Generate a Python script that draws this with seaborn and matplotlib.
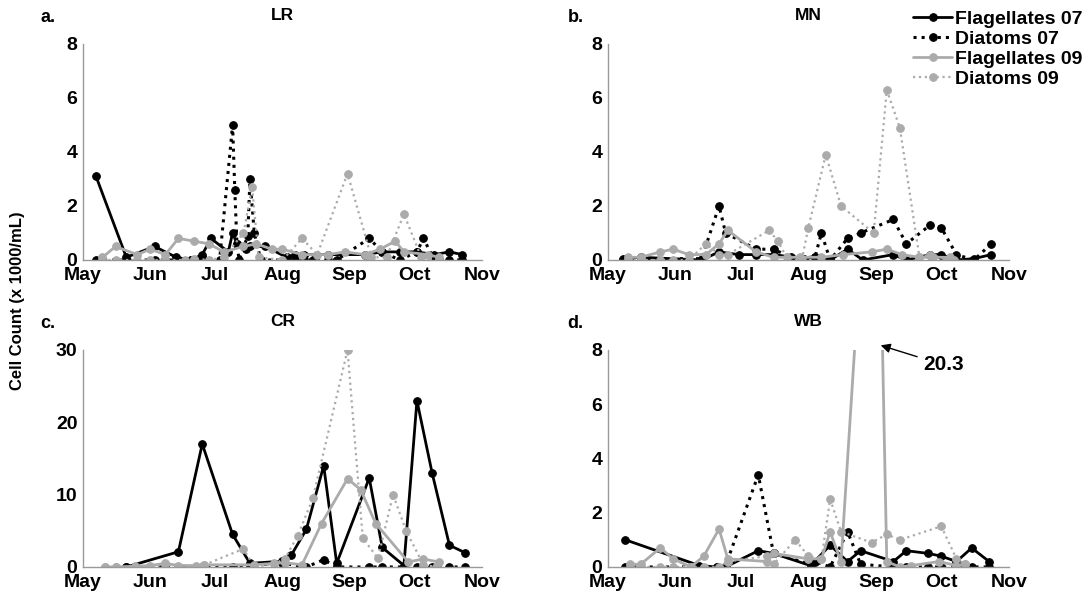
import pandas as pd
import matplotlib.pyplot as plt
import numpy as np
import seaborn as sns

# days counted from May 1; values are cell counts (x 1000/mL)
month_days = [0, 31, 61, 92, 123, 153, 184]
month_labels = ['May', 'Jun', 'Jul', 'Aug', 'Sep', 'Oct', 'Nov']
series_names = ['Flagellates 07', 'Diatoms 07', 'Flagellates 09', 'Diatoms 09']

# LR
lr_f07_day = [6, 20, 33, 43, 50, 55, 59, 67, 69, 71, 75, 77, 84, 94, 98, 102, 113, 130, 138, 146, 154, 162, 169, 175]
lr_f07 = [3.1, 0.1, 0.5, 0.1, 0.0, 0.2, 0.8, 0.3, 1.0, 0.6, 0.4, 0.5, 0.5, 0.1, 0.2, 0.2, 0.2, 0.2, 0.3, 0.3, 0.3, 0.2, 0.3, 0.2]
lr_d07_day = [6, 20, 33, 43, 50, 55, 63, 69, 70, 71, 72, 76, 77, 79, 82, 94, 98, 102, 106, 113, 117, 132, 138, 146, 154, 157, 162, 169, 175]
lr_d07 = [0, 0, 0, 0, 0, 0.1, 0, 5.0, 2.6, 0.6, 0, 0.9, 3.0, 1.0, 0, 0, 0, 0, 0, 0, 0, 0.8, 0.3, 0, 0.3, 0.8, 0, 0, 0]
lr_f09_day = [9, 15, 25, 31, 38, 44, 51, 58, 65, 74, 80, 87, 92, 101, 113, 121, 130, 137, 144, 148, 159, 164]
lr_f09 = [0.1, 0.5, 0.2, 0.4, 0.2, 0.8, 0.7, 0.6, 0.3, 0.5, 0.6, 0.4, 0.4, 0.2, 0.2, 0.3, 0.2, 0.4, 0.7, 0.3, 0.2, 0.1]
lr_d09_day = [9, 15, 25, 31, 38, 47, 51, 58, 65, 74, 78, 81, 92, 101, 108, 122, 133, 140, 148, 156, 164]
lr_d09 = [0, 0, 0, 0, 0, 0, 0.05, 0, 0.1, 1.0, 2.7, 0.1, 0, 0.8, 0.2, 3.2, 0.1, 0.1, 1.7, 0.1, 0]

# MN
mn_f07_day = [7, 15, 43, 51, 60, 68, 76, 90, 95, 102, 110, 117, 131, 137, 148, 153, 160, 168, 176]
mn_f07 = [0.05, 0.1, 0, 0.3, 0.2, 0.2, 0.2, 0.05, 0.1, 0, 0.4, 0, 0.2, 0, 0.2, 0.2, 0, 0.05, 0.2]
mn_d07_day = [7, 15, 43, 51, 54, 68, 76, 84, 95, 98, 102, 110, 116, 131, 137, 148, 153, 160, 168, 176]
mn_d07 = [0, 0.05, 0.05, 2.0, 1.0, 0.4, 0.4, 0.1, 0.1, 1.0, 0, 0.8, 1.0, 1.5, 0.6, 1.3, 1.2, 0.2, 0, 0.6]
mn_f09_day = [9, 15, 24, 30, 37, 45, 51, 55, 68, 76, 88, 98, 108, 121, 128, 135, 143, 149, 157]
mn_f09 = [0.1, 0.1, 0.3, 0.4, 0.2, 0.2, 0.6, 1.1, 0.3, 0.1, 0.1, 0.1, 0.2, 0.3, 0.4, 0.2, 0.1, 0.1, 0.1]
mn_d09_day = [9, 15, 24, 30, 37, 45, 51, 55, 74, 78, 82, 89, 92, 100, 107, 122, 128, 134, 143, 148, 156, 159]
mn_d09 = [0, 0, 0, 0, 0, 0.6, 0.2, 0.2, 1.1, 0.7, 0.1, 0, 1.2, 3.9, 2.0, 1.0, 6.3, 4.9, 0.1, 0.2, 0, 0]

# CR
cr_f07_day = [20, 44, 55, 69, 77, 92, 96, 103, 111, 117, 132, 138, 148, 154, 161, 169, 176]
cr_f07 = [0, 2.1, 17, 4.5, 0.5, 0.8, 1.6, 5.2, 14, 0.5, 12.3, 2.7, 0.2, 23, 13, 3, 2]
cr_d07_day = [20, 44, 55, 69, 77, 92, 103, 111, 117, 132, 138, 148, 154, 161, 169, 176]
cr_d07 = [0, 0, 0, 0, 0.3, 0.5, 0, 1.0, 0, 0, 0, 0, 0, 0, 0, 0]
cr_f09_day = [10, 15, 24, 31, 38, 44, 52, 56, 79, 88, 93, 101, 110, 122, 128, 135, 150, 157, 164]
cr_f09 = [0, 0, 0.1, 0.2, 0.5, 0.2, 0.2, 0.3, 0.3, 0.5, 0.6, 0.3, 6, 12.2, 10.7, 6, 0.7, 1.1, 0.7]
cr_d09_day = [10, 15, 31, 38, 52, 56, 74, 79, 88, 93, 99, 106, 122, 129, 136, 143, 149, 157, 163]
cr_d09 = [0, 0, 0, 0.4, 0, 0.3, 2.5, 0, 0.4, 1.1, 4.3, 9.5, 30, 4, 1.2, 10, 5, 0.3, 0]

# WB
wb_f07_day = [8, 42, 50, 54, 69, 76, 93, 102, 110, 116, 131, 137, 147, 153, 160, 167, 175]
wb_f07 = [1.0, 0.05, 0, 0, 0.6, 0.5, 0.05, 0.8, 0.2, 0.6, 0.2, 0.6, 0.5, 0.4, 0.2, 0.7, 0.2]
wb_d07_day = [8, 42, 50, 54, 69, 76, 93, 95, 102, 110, 116, 131, 137, 147, 153, 160, 167, 175]
wb_d07 = [0, 0, 0, 0.05, 3.4, 0.5, 0.1, 0.2, 0, 1.3, 0.1, 0, 0, 0, 0, 0, 0, 0]
wb_f09_day = [10, 15, 24, 30, 38, 44, 51, 55, 73, 76, 92, 98, 102, 107, 123, 128, 134, 139, 152, 160, 164]
wb_f09 = [0.1, 0.1, 0.7, 0.3, 0, 0.4, 1.4, 0.3, 0.2, 0.5, 0.3, 0.3, 1.3, 0.2, 20.3, 0.2, 0, 0.05, 0.2, 0.05, 0.1]
wb_d09_day = [10, 15, 24, 30, 38, 44, 51, 55, 73, 76, 86, 92, 98, 102, 107, 121, 128, 134, 153, 160, 164]
wb_d09 = [0, 0, 0, 0, 0, 0, 0, 0.2, 0.4, 0.1, 1.0, 0.4, 0.3, 2.5, 1.3, 0.9, 1.2, 1.0, 1.5, 0.3, 0.1]

panels = [
    ('a.', 'LR', [(lr_f07_day, lr_f07), (lr_d07_day, lr_d07), (lr_f09_day, lr_f09), (lr_d09_day, lr_d09)], 8),
    ('b.', 'MN', [(mn_f07_day, mn_f07), (mn_d07_day, mn_d07), (mn_f09_day, mn_f09), (mn_d09_day, mn_d09)], 8),
    ('c.', 'CR', [(cr_f07_day, cr_f07), (cr_d07_day, cr_d07), (cr_f09_day, cr_f09), (cr_d09_day, cr_d09)], 30),
    ('d.', 'WB', [(wb_f07_day, wb_f07), (wb_d07_day, wb_d07), (wb_f09_day, wb_f09), (wb_d09_day, wb_d09)], 8),
]

sns.set_style('white')
plt.rcParams['font.family'] = ['Liberation Sans', 'DejaVu Sans']
plt.rcParams['font.weight'] = 'bold'
plt.rcParams['text.color'] = 'black'
plt.rcParams['axes.labelcolor'] = 'black'

grey = '#ababab'
styles = [
    dict(color='black', linestyle='-', lw=2.0, markersize=5.5),
    dict(color='black', linestyle=':', lw=2.2, markersize=5.5),
    dict(color=grey, linestyle='-', lw=2.0, markersize=5.5),
    dict(color=grey, linestyle=':', lw=1.6, markersize=5.5),
]

fig = plt.figure(figsize=(10.89, 5.97), dpi=100)
positions = [
    [0.0762, 0.5645, 0.3664, 0.3618],
    [0.5583, 0.5645, 0.3680, 0.3618],
    [0.0762, 0.0503, 0.3664, 0.3635],
    [0.5583, 0.0503, 0.3680, 0.3635],
]
tag_x = [0.037, 0.521, 0.037, 0.521]

axes = []
for (tag, name, series, ymax), pos, tx in zip(panels, positions, tag_x):
    ax = fig.add_axes(pos)
    axes.append(ax)
    for (days, vals), label, st in zip(series, series_names, styles):
        df = pd.DataFrame({'day': days, 'count': vals})
        sns.lineplot(data=df, x='day', y='count', ax=ax, marker='o', label=label,
                     markeredgecolor=st['color'], markerfacecolor=st['color'],
                     color=st['color'], linestyle=st['linestyle'], lw=st['lw'],
                     markersize=st['markersize'], legend=False)
    ax.set_xlim(0, 184)
    ax.set_ylim(0, ymax)
    ax.set_xticks(month_days)
    ax.set_xticklabels(month_labels)
    if ymax == 30:
        ax.set_yticks([0, 10, 20, 30])
    else:
        ax.set_yticks([0, 2, 4, 6, 8])
    ax.set_xlabel('')
    ax.set_ylabel('')
    ax.tick_params(axis='both', labelsize=14, direction='in', length=3, color='#999999',
                   labelcolor='black')
    ax.tick_params(axis='x', pad=5)
    ax.tick_params(axis='y', pad=4)
    for lab in ax.get_xticklabels() + ax.get_yticklabels():
        lab.set_fontweight('bold')
    for s in ['top', 'right']:
        ax.spines[s].set_visible(False)
    for s in ['left', 'bottom']:
        ax.spines[s].set_color('#999999')
        ax.spines[s].set_linewidth(1.0)
    ax.set_title(name, fontsize=12.5, fontweight='bold', pad=17, color='black')
    fig.text(tx, pos[1] + pos[3] + 0.037, tag, fontsize=13, fontweight='bold')

# WB flagellate peak runs off the axis
axes[3].annotate('20.3', xy=(124, 8.2), xytext=(154, 7.45), fontsize=15, fontweight='bold',
                 ha='center', va='center', annotation_clip=False,
                 arrowprops=dict(arrowstyle='-|>', color='black', lw=1, mutation_scale=14))

handles = axes[1].get_lines()[:4]
fig.legend(handles, series_names, loc='upper left', bbox_to_anchor=(0.838, 0.983),
           frameon=False, handlelength=2.05, labelspacing=0.12, borderpad=0,
           borderaxespad=0, handletextpad=0.15, prop={'weight': 'bold', 'size': 14})

fig.text(0.016, 0.497, 'Cell Count (x 1000/mL)', rotation=90, ha='center', va='center',
         fontsize=12, fontweight='bold')

plt.savefig('out.png', dpi=100)
